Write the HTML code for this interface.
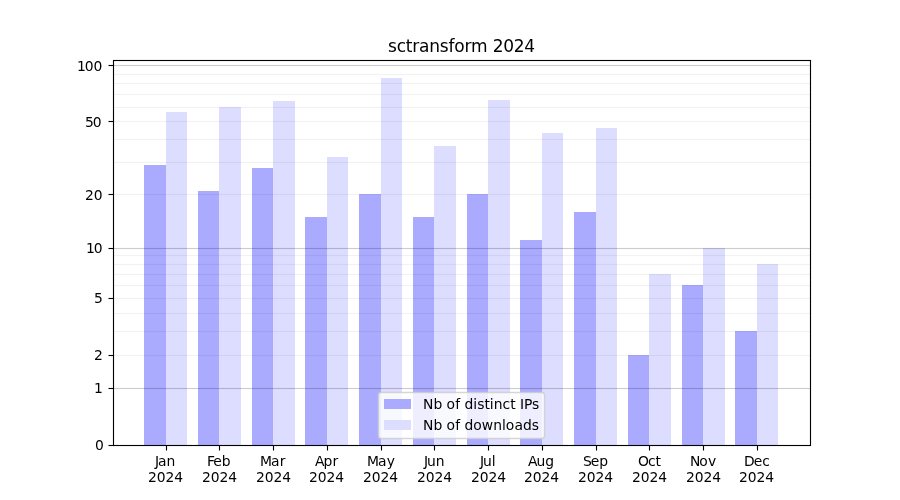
<!DOCTYPE html>
<html lang="en">
<head>
<meta charset="utf-8">
<title>sctransform 2024</title>
<style>
html,body{margin:0;padding:0;background:#fff;}
body{width:900px;height:500px;overflow:hidden;}
svg{display:block;}
text{text-rendering:auto;}
</style>
</head>
<body>
<svg width="900" height="500" viewBox="0 0 900 500">
<rect x="0" y="0" width="900" height="500" fill="#fff"/>
<g shape-rendering="crispEdges">
<rect x="144" y="165" width="22" height="280" fill="#aaaaff"/>
<rect x="166" y="112" width="21" height="333" fill="#ddddff"/>
<rect x="198" y="191" width="21" height="254" fill="#aaaaff"/>
<rect x="219" y="107" width="22" height="338" fill="#ddddff"/>
<rect x="252" y="168" width="21" height="277" fill="#aaaaff"/>
<rect x="273" y="101" width="22" height="344" fill="#ddddff"/>
<rect x="305" y="217" width="22" height="228" fill="#aaaaff"/>
<rect x="327" y="157" width="21" height="288" fill="#ddddff"/>
<rect x="359" y="194" width="22" height="251" fill="#aaaaff"/>
<rect x="381" y="78" width="21" height="367" fill="#ddddff"/>
<rect x="413" y="217" width="21" height="228" fill="#aaaaff"/>
<rect x="434" y="146" width="22" height="299" fill="#ddddff"/>
<rect x="467" y="194" width="21" height="251" fill="#aaaaff"/>
<rect x="488" y="100" width="22" height="345" fill="#ddddff"/>
<rect x="520" y="240" width="22" height="205" fill="#aaaaff"/>
<rect x="542" y="133" width="21" height="312" fill="#ddddff"/>
<rect x="574" y="212" width="22" height="233" fill="#aaaaff"/>
<rect x="596" y="128" width="21" height="317" fill="#ddddff"/>
<rect x="628" y="355" width="21" height="90" fill="#aaaaff"/>
<rect x="649" y="274" width="22" height="171" fill="#ddddff"/>
<rect x="682" y="285" width="21" height="160" fill="#aaaaff"/>
<rect x="703" y="248" width="22" height="197" fill="#ddddff"/>
<rect x="735" y="331" width="22" height="114" fill="#aaaaff"/>
<rect x="757" y="264" width="21" height="181" fill="#ddddff"/>
</g>
<g fill="#000">
<rect x="113" y="387.940" width="698" height="1.12" fill-opacity="0.2"/>
<rect x="113" y="354.900" width="698" height="1.2" fill-opacity="0.05"/>
<rect x="113" y="330.900" width="698" height="1.2" fill-opacity="0.05"/>
<rect x="113" y="312.900" width="698" height="1.2" fill-opacity="0.05"/>
<rect x="113" y="297.900" width="698" height="1.2" fill-opacity="0.05"/>
<rect x="113" y="284.900" width="698" height="1.2" fill-opacity="0.05"/>
<rect x="113" y="273.900" width="698" height="1.2" fill-opacity="0.05"/>
<rect x="113" y="263.900" width="698" height="1.2" fill-opacity="0.05"/>
<rect x="113" y="254.900" width="698" height="1.2" fill-opacity="0.05"/>
<rect x="113" y="247.940" width="698" height="1.12" fill-opacity="0.2"/>
<rect x="113" y="193.900" width="698" height="1.2" fill-opacity="0.05"/>
<rect x="113" y="161.900" width="698" height="1.2" fill-opacity="0.05"/>
<rect x="113" y="138.900" width="698" height="1.2" fill-opacity="0.05"/>
<rect x="113" y="120.900" width="698" height="1.2" fill-opacity="0.05"/>
<rect x="113" y="106.900" width="698" height="1.2" fill-opacity="0.05"/>
<rect x="113" y="93.900" width="698" height="1.2" fill-opacity="0.05"/>
<rect x="113" y="82.900" width="698" height="1.2" fill-opacity="0.05"/>
<rect x="113" y="73.900" width="698" height="1.2" fill-opacity="0.05"/>
<rect x="113" y="64.940" width="698" height="1.12" fill-opacity="0.2"/>
</g>
<g fill="#000">
<rect x="108.5" y="444.945" width="5" height="1.11"/>
<rect x="108.5" y="387.945" width="5" height="1.11"/>
<rect x="108.5" y="354.945" width="5" height="1.11"/>
<rect x="108.5" y="297.945" width="5" height="1.11"/>
<rect x="108.5" y="247.945" width="5" height="1.11"/>
<rect x="108.5" y="193.945" width="5" height="1.11"/>
<rect x="108.5" y="120.945" width="5" height="1.11"/>
<rect x="108.5" y="64.945" width="5" height="1.11"/>
<rect x="165.945" y="445.5" width="1.11" height="5"/>
<rect x="218.945" y="445.5" width="1.11" height="5"/>
<rect x="272.945" y="445.5" width="1.11" height="5"/>
<rect x="326.945" y="445.5" width="1.11" height="5"/>
<rect x="380.945" y="445.5" width="1.11" height="5"/>
<rect x="433.945" y="445.5" width="1.11" height="5"/>
<rect x="487.945" y="445.5" width="1.11" height="5"/>
<rect x="541.945" y="445.5" width="1.11" height="5"/>
<rect x="595.945" y="445.5" width="1.11" height="5"/>
<rect x="648.945" y="445.5" width="1.11" height="5"/>
<rect x="702.945" y="445.5" width="1.11" height="5"/>
<rect x="756.945" y="445.5" width="1.11" height="5"/>
</g>
<rect x="113.5" y="60.5" width="697" height="385" fill="none" stroke="#000" stroke-width="1.11"/>
<g font-family="'DejaVu Sans', 'Liberation Sans', sans-serif" fill="#000">
<text x="388.02 396.67 405.82 412.28 419.07 429.29 439.86 448.51 454.3 464.49 470.99 487.34 492.79 503.15 513.77 524.14" y="52.00" font-size="17">sctransform 2024</text>
<g font-size="13.889">
<text x="94.95" y="450.00">0</text>
<text x="93.95" y="393.00">1</text>
<text x="93.95" y="360.00">2</text>
<text x="93.95" y="303.00">5</text>
<text x="86 93.82" y="253.00">10</text>
<text x="85 93.82" y="200.00">20</text>
<text x="85 92.82" y="127.00">50</text>
<text x="76.93 84.74 93.57" y="71.00">100</text>
<text x="155 158.08 166.6" y="466.00">Jan</text>
<text x="147.91 156.73 165.55 174.13" y="482.00">2024</text>
<text x="207.02 213.24 221.77" y="466.00">Feb</text>
<text x="201.9 210.72 219.54 228.37" y="482.00">2024</text>
<text x="259.96 270.93 279.68" y="466.00">Mar</text>
<text x="255.89 264.71 273.53 282.36" y="482.00">2024</text>
<text x="314.9 323.39 332.45" y="466.00">Apr</text>
<text x="309.12 317.69 326.51 335.34" y="482.00">2024</text>
<text x="366.93 377.89 386.64" y="466.00">May</text>
<text x="363.11 371.68 380.5 389.33" y="482.00">2024</text>
<text x="423.92 426.99 435.79" y="466.00">Jun</text>
<text x="417.1 425.67 434.49 443.32" y="482.00">2024</text>
<text x="480 483.07 491.87" y="466.00">Jul</text>
<text x="471.08 479.65 488.47 497.3" y="482.00">2024</text>
<text x="528.05 536.54 545.33" y="466.00">Aug</text>
<text x="524.07 532.64 541.46 550.29" y="482.00">2024</text>
<text x="582.89 590.69 599.24" y="466.00">Sep</text>
<text x="578.06 586.63 595.45 604.28" y="482.00">2024</text>
<text x="637.95 648.11 655.5" y="466.00">Oct</text>
<text x="631.92 640.74 649.56 658.14" y="482.00">2024</text>
<text x="689.89 699.27 708" y="466.00">Nov</text>
<text x="685.9 694.72 703.54 712.37" y="482.00">2024</text>
<text x="744 753.67 762.22" y="466.00">Dec</text>
<text x="738.89 747.71 756.53 765.36" y="482.00">2024</text>
</g></g>
<rect x="378.5" y="392.5" width="166" height="46" rx="2.78" ry="2.78" fill="#fff" fill-opacity="0.8" stroke="#ccc" stroke-opacity="0.8" stroke-width="1.39"/>
<g shape-rendering="crispEdges"><rect x="384" y="399" width="27" height="10" fill="#aaaaff"/><rect x="384" y="420" width="27" height="10" fill="#ddddff"/></g>
<g font-family="'DejaVu Sans', 'Liberation Sans', sans-serif" font-size="13.889" fill="#000">
<text x="423.07 433.44 442.24 446.41 455.15 460.04 464.44 473.26 477.35 484.59 489.77 493.63 502.43 510.3 515.49 519.9 523.99 532.12" y="409.00">Nb of distinct IPs</text>
<text x="423.07 433.44 442.24 446.41 455.15 460.04 464.44 473.26 481.74 493.34 501.88 505.74 514.48 522.98 531.79" y="430.00">Nb of downloads</text>
</g>
</svg>
</body>
</html>
